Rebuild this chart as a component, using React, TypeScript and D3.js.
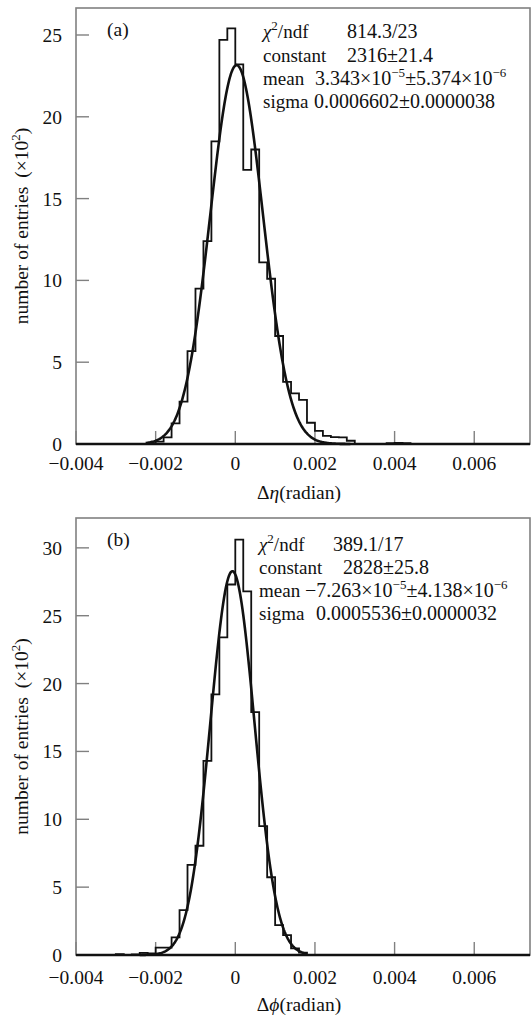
import React from "react";
import * as d3 from "d3";

// x axis shared by both panels
const xTicks = [-0.004, -0.002, 0, 0.002, 0.004, 0.006];
const xTickLabels = ["−0.004", "−0.002", "0", "0.002", "0.004", "0.006"];
const binWidth = 0.0002;

// panel (a): Δη, counts in units of 10^2
const binStartA = -0.0022;
const countsA = [
  0.05, 0.14, 0.4, 1.26, 2.59, 5.68, 9.5, 12.4, 18.5, 24.7, 25.4, 23.2, 16.75,
  18.0, 11.1, 10.1, 6.6, 3.8, 3.1, 2.7, 1.3, 0.8, 0.5, 0.42, 0.4, 0.2, 0, 0, 0,
  0, 0.05, 0.06, 0.05,
];
const yTicksA = [0, 5, 10, 15, 20, 25];
const fitA = { constant: 2316, mean: 3.343e-5, sigma: 0.0006602, from: -0.00225, to: 0.0029 };

// panel (b): Δφ
const binStartB = -0.003;
const countsB = [
  0.07, 0, 0.05, 0.15, 0.12, 0.54, 0.54, 1.3, 3.3, 6.64, 8.05, 14.3, 19.2, 23.4,
  27.3, 30.6, 26.8, 17.9, 9.5, 5.73, 2.2, 1.46, 0.49, 0.17,
];
const yTicksB = [0, 5, 10, 15, 20, 25, 30];
const fitB = { constant: 2828, mean: -7.263e-5, sigma: 0.0005536, from: -0.0024, to: 0.0018 };

const FONT = "'Liberation Serif', 'Times New Roman', serif";
const FS = 19.5;
const LABEL_FS = 19;
const VALUE_FS = 20;
const GREY = "#808080";

function Sup({ children }: { children: React.ReactNode }) {
  return (
    <tspan fontSize={13} baselineShift="8">
      {children}
    </tspan>
  );
}

function Panel(p: any) {
  const left = 76;
  const right = 530;
  const x = d3.scaleLinear().domain([-0.004, 0.0074]).range([left, right]);
  const y = d3.scaleLinear().domain([0, p.yMax]).range([p.bottom, p.top]);

  // histogram outline
  const pts: [number, number][] = [[p.binStart, 0]];
  p.counts.forEach((c: number, i: number) => {
    const x0 = p.binStart + i * binWidth;
    pts.push([x0, c], [x0 + binWidth, c]);
  });
  pts.push([p.binStart + p.counts.length * binWidth, 0]);
  const line = d3
    .line<[number, number]>()
    .x((d) => x(d[0]))
    .y((d) => y(d[1]));

  // gaussian fit drawn from the printed fit parameters
  const f = p.fit;
  const fitPts = d3
    .range(f.from, f.to + 1e-9, 0.00002)
    .map((v) => [v, (f.constant / 100) * Math.exp(-0.5 * ((v - f.mean) / f.sigma) ** 2)] as [number, number]);

  const s = p.stats;
  const sb = p.statsTop;

  return (
    <g fontFamily={FONT} fontSize={FS} fill="#111">
      <rect x={left} y={p.top} width={right - left} height={p.bottom - p.top} fill="none" stroke={GREY} strokeWidth={1.6} />
      {p.yTicks.map((t: number) => (
        <g key={"y" + t}>
          <line x1={left} x2={left + 13} y1={y(t)} y2={y(t)} stroke={GREY} strokeWidth={1.4} />
          <text x={62} y={y(t) + 7} textAnchor="end">{t}</text>
        </g>
      ))}
      {xTicks.map((t, i) => (
        <g key={"x" + t}>
          <line x1={x(t)} x2={x(t)} y1={p.bottom} y2={p.bottom - 13} stroke={GREY} strokeWidth={1.4} />
          <text x={x(t)} y={p.bottom + p.tickOff} textAnchor="middle">{xTickLabels[i]}</text>
        </g>
      ))}
      <path d={line(pts) || ""} fill="none" stroke="#111" strokeWidth={1.8} />
      <path d={line(fitPts) || ""} fill="none" stroke="#111" strokeWidth={2.6} />
      <line x1={left} x2={right} y1={p.bottom} y2={p.bottom} stroke="#111" strokeWidth={2.4} />

      <text x={107} y={p.top + 28}>{p.tag}</text>

      <g fontSize={LABEL_FS}>
        <text x={s.labelX} y={sb[0]}>
          <tspan fontStyle="italic">χ</tspan>
          <Sup>2</Sup>/ndf
        </text>
        <text x={s.labelX} y={sb[1]}>constant</text>
        <text x={s.labelX} y={sb[2]}>mean</text>
        <text x={s.labelX} y={sb[3]}>sigma</text>
      </g>
      <g fontSize={VALUE_FS}>
        <text x={s.chiX} y={sb[0]}>{s.chi}</text>
        <text x={s.constX} y={sb[1]}>{s.constant}</text>
        <text x={s.meanX} y={sb[2]}>
          {s.meanMant}×10<Sup>{s.meanExp}</Sup>±{s.meanErrMant}×10<Sup>{s.meanErrExp}</Sup>
        </text>
        <text x={s.sigmaX} y={sb[3]}>{s.sigma}</text>
      </g>

      <text transform={`translate(28,${(p.top + p.bottom) / 2}) rotate(-90)`} textAnchor="middle">
        number of entries<tspan dx={9}>(×10</tspan>
        <Sup>2</Sup>)
      </text>
      <text x={299} y={p.bottom + p.titleOff} textAnchor="middle">
        Δ<tspan fontStyle="italic">{p.xVar}</tspan>(radian)
      </text>
    </g>
  );
}

export default function App() {
  return (
    <svg width={531} height={1017} style={{ position: "absolute", left: 0, top: 0, background: "#fff" }}>
      <Panel
        top={8}
        bottom={444}
        yMax={26.65}
        yTicks={yTicksA}
        binStart={binStartA}
        counts={countsA}
        fit={fitA}
        tag="(a)"
        xVar="η"
        tickOff={26}
        titleOff={55}
        statsTop={[38, 62, 85, 108]}
        stats={{
          labelX: 263,
          chiX: 347,
          constX: 347,
          meanX: 315,
          sigmaX: 314,
          chi: "814.3/23",
          constant: "2316±21.4",
          meanMant: "3.343",
          meanExp: "−5",
          meanErrMant: "5.374",
          meanErrExp: "−6",
          sigma: "0.0006602±0.0000038",
        }}
      />
      <Panel
        top={518}
        bottom={955}
        yMax={32.2}
        yTicks={yTicksB}
        binStart={binStartB}
        counts={countsB}
        fit={fitB}
        tag="(b)"
        xVar="ϕ"
        tickOff={29}
        titleOff={56}
        statsTop={[551, 574, 597, 620]}
        stats={{
          labelX: 259,
          chiX: 333,
          constX: 343,
          meanX: 305,
          sigmaX: 316,
          chi: "389.1/17",
          constant: "2828±25.8",
          meanMant: "−7.263",
          meanExp: "−5",
          meanErrMant: "4.138",
          meanErrExp: "−6",
          sigma: "0.0005536±0.0000032",
        }}
      />
    </svg>
  );
}
